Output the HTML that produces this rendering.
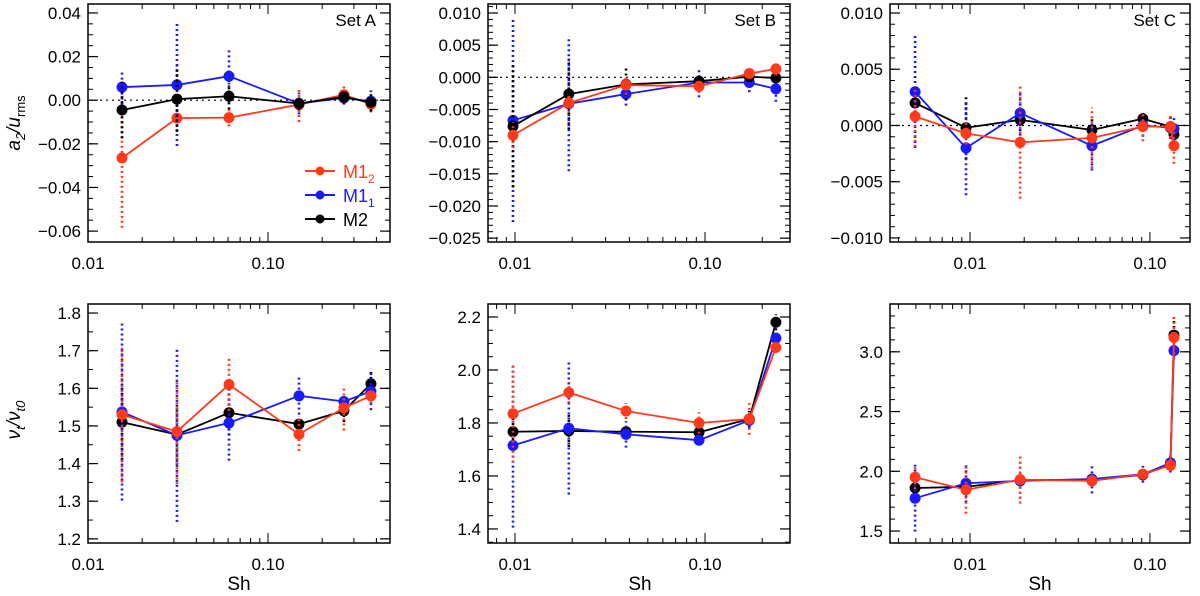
<!DOCTYPE html>
<html><head><meta charset="utf-8">
<style>
body{margin:0;background:#fff;}
svg{display:block;}
text{font-family:"Liberation Sans",sans-serif;}
</style></head>
<body>
<svg id="fig" width="1200" height="596" viewBox="0 0 1200 596" xmlns="http://www.w3.org/2000/svg">
<g transform="translate(20,123) rotate(-90)"><text x="0" y="0" text-anchor="middle" font-size="19" font-family="Liberation Serif" font-style="italic">a<tspan font-size="13" dy="5">2</tspan><tspan dy="-5">/u</tspan><tspan font-size="13" dy="5" font-style="normal">rms</tspan></text></g>
<g transform="translate(20,420) rotate(-90)"><text x="0" y="0" text-anchor="middle" font-size="19" font-family="Liberation Serif" font-style="italic">ν<tspan font-size="13" dy="5">t</tspan><tspan dy="-5">/ν</tspan><tspan font-size="13" dy="5">t0</tspan></text></g>
<text x="239" y="590" text-anchor="middle" font-size="19" font-family="Liberation Serif">Sh</text>
<text x="640" y="590" text-anchor="middle" font-size="19" font-family="Liberation Serif">Sh</text>
<text x="1040" y="590" text-anchor="middle" font-size="19" font-family="Liberation Serif">Sh</text>
<g id="legend">
<line x1="305" y1="171" x2="335" y2="171" stroke="#ff3a1a" stroke-width="2"/><circle cx="320" cy="171" r="4.5" fill="#ff3a1a"/>
<text x="343" y="178" font-size="18" font-family="Liberation Serif" fill="#ff3a1a">M1<tspan font-size="12" dy="5">2</tspan></text>
<line x1="305" y1="195" x2="335" y2="195" stroke="#1a1aff" stroke-width="2"/><circle cx="320" cy="195" r="4.5" fill="#1a1aff"/>
<text x="343" y="202" font-size="18" font-family="Liberation Serif" fill="#1a1aff">M1<tspan font-size="12" dy="5">1</tspan></text>
<line x1="305" y1="219" x2="335" y2="219" stroke="#000" stroke-width="2"/><circle cx="320" cy="219" r="4.5" fill="#000"/>
<text x="343" y="226" font-size="18" font-family="Liberation Serif" fill="#000">M2</text>
</g>
</svg>
<script>
// x positions (Sh)
const shA=[0.01545,0.0312,0.0607,0.1486,0.264,0.373];
const shB=[0.00976,0.0192,0.0384,0.093,0.171,0.236];
const shC=[0.00495,0.0095,0.019,0.0476,0.0914,0.130,0.136];
// a2/urms
const a2A_red=[-0.0265,-0.0082,-0.0080,-0.0020,0.0025,-0.0018];
const a2A_blue=[0.006,0.007,0.011,-0.0015,0.001,-0.0005];
const a2A_black=[-0.0045,0.0005,0.0018,-0.0015,0.0015,-0.001];
const a2A_redErr=[0.032,0.006,0.004,0.008,0.004,0.003];
const a2A_blueErr=[0.008,0.028,0.012,0.005,0.003,0.005];
const a2A_blackErr=[0.013,0.015,0.006,0.003,0.003,0.004];
const a2B_red=[-0.009,-0.004,-0.0012,-0.0014,0.0006,0.0013];
const a2B_blue=[-0.0067,-0.0041,-0.0026,-0.0008,-0.0008,-0.0018];
const a2B_black=[-0.0076,-0.0026,-0.0011,-0.0006,0.0001,-0.0001];
const a2B_redErr=[0.002,0.0015,0.0015,0.001,0.0005,0.001];
const a2B_blueErr=[0.0158,0.0105,0.0018,0.0023,0.0015,0.002];
const a2B_blackErr=[0.0095,0.0055,0.0025,0.001,0.0005,0.0005];
const a2C_red=[0.0008,-0.0007,-0.0015,-0.0011,-0.0001,-0.0001,-0.0018];
const a2C_blue=[0.003,-0.002,0.0011,-0.0018,0.0,-0.0002,-0.0003];
const a2C_black=[0.002,-0.0002,0.0005,-0.0004,0.0006,-0.0001,-0.0008];
const a2C_redErr=[0.0027,0.001,0.005,0.0027,0.0013,0.001,0.0016];
const a2C_blueErr=[0.005,0.0042,0.002,0.0022,0.001,0.001,0.001];
const a2C_blackErr=[0.0003,0.0028,0.001,0.001,0.0005,0.0005,0.0005];
// nu_t/nu_t0
const nuA_red=[1.53,1.485,1.61,1.478,1.548,1.58];
const nuA_blue=[1.537,1.475,1.508,1.58,1.565,1.592];
const nuA_black=[1.51,1.477,1.535,1.505,1.54,1.612];
const nuA_redErr=[0.18,0.14,0.07,0.045,0.06,0.02];
const nuA_blueErr=[0.235,0.23,0.1,0.05,0.01,0.05];
const nuA_blackErr=[0.1,0.08,0.06,0.02,0.03,0.04];
const nuB_red=[1.835,1.915,1.845,1.80,1.815,2.085];
const nuB_blue=[1.715,1.78,1.757,1.735,1.81,2.12];
const nuB_black=[1.767,1.77,1.767,1.765,1.815,2.18];
const nuB_redErr=[0.185,0.04,0.03,0.04,0.06,0.02];
const nuB_blueErr=[0.31,0.25,0.05,0.02,0.03,0.02];
const nuB_blackErr=[0.05,0.06,0.02,0.01,0.03,0.03];
const nuC_red=[1.95,1.845,1.93,1.92,1.975,2.05,3.12];
const nuC_blue=[1.775,1.90,1.92,1.935,1.975,2.07,3.01];
const nuC_black=[1.86,1.87,1.925,1.93,1.97,2.06,3.14];
const nuC_redErr=[0.1,0.2,0.2,0.05,0.04,0.05,0.18];
const nuC_blueErr=[0.28,0.16,0.15,0.12,0.07,0.08,0.05];
const nuC_blackErr=[0.05,0.05,0.05,0.04,0.03,0.03,0.15];
// tick labels
const xTickVals=[0.01,0.1];
const xTickLabels=["0.01","0.10"];
const yTicksA=[-0.06,-0.04,-0.02,0,0.02,0.04];
const yLabelsA=["−0.06","−0.04","−0.02","0.00","0.02","0.04"];
const yTicksB=[-0.025,-0.02,-0.015,-0.01,-0.005,0,0.005,0.01];
const yLabelsB=["−0.025","−0.020","−0.015","−0.010","−0.005","0.000","0.005","0.010"];
const yTicksC=[-0.01,-0.005,0,0.005,0.01];
const yLabelsC=["−0.010","−0.005","0.000","0.005","0.010"];
const yTicksNA=[1.2,1.3,1.4,1.5,1.6,1.7,1.8];
const yLabelsNA=["1.2","1.3","1.4","1.5","1.6","1.7","1.8"];
const yTicksNB=[1.4,1.6,1.8,2.0,2.2];
const yLabelsNB=["1.4","1.6","1.8","2.0","2.2"];
const yTicksNC=[1.5,2.0,2.5,3.0];
const yLabelsNC=["1.5","2.0","2.5","3.0"];

const RED="#ff3a1a",BLUE="#1a1aff",BLK="#000";
const NS="http://www.w3.org/2000/svg";
const svg=document.getElementById('fig');
function mk(tag,attrs,parent){const e=document.createElementNS(NS,tag);for(const k in attrs)e.setAttribute(k,attrs[k]);(parent||svg).appendChild(e);return e;}

const panels=[
 {id:'a2-set-a',box:[88,4,390,242],xr:[0.01,0.476],yr:[-0.065,0.0441],yt:yTicksA,yl:yLabelsA,ym:0.005,sh:shA,s:[[a2A_red,a2A_redErr,RED],[a2A_blue,a2A_blueErr,BLUE],[a2A_black,a2A_blackErr,BLK]],zero:true,title:'Set A'},
 {id:'a2-set-b',box:[488,4,790,242],xr:[0.00721,0.28],yr:[-0.0256,0.0114],yt:yTicksB,yl:yLabelsB,ym:0.001,sh:shB,s:[[a2B_blue,a2B_blueErr,BLUE],[a2B_black,a2B_blackErr,BLK],[a2B_red,a2B_redErr,RED]],zero:true,title:'Set B'},
 {id:'a2-set-c',box:[890,4,1190,242],xr:[0.00359,0.167],yr:[-0.01036,0.0108],yt:yTicksC,yl:yLabelsC,ym:0.001,sh:shC,s:[[a2C_black,a2C_blackErr,BLK],[a2C_blue,a2C_blueErr,BLUE],[a2C_red,a2C_redErr,RED]],zero:true,title:'Set C'},
 {id:'nu-set-a',box:[88,304,390,543],xr:[0.01,0.476],yr:[1.189,1.824],yt:yTicksNA,yl:yLabelsNA,ym:0.05,sh:shA,s:[[nuA_black,nuA_blackErr,BLK],[nuA_blue,nuA_blueErr,BLUE],[nuA_red,nuA_redErr,RED]]},
 {id:'nu-set-b',box:[488,304,790,543],xr:[0.00721,0.28],yr:[1.347,2.249],yt:yTicksNB,yl:yLabelsNB,ym:0.05,sh:shB,s:[[nuB_black,nuB_blackErr,BLK],[nuB_blue,nuB_blueErr,BLUE],[nuB_red,nuB_redErr,RED]]},
 {id:'nu-set-c',box:[890,304,1190,543],xr:[0.00359,0.167],yr:[1.40,3.40],yt:yTicksNC,yl:yLabelsNC,ym:0.1,sh:shC,s:[[nuC_black,nuC_blackErr,BLK],[nuC_blue,nuC_blueErr,BLUE],[nuC_red,nuC_redErr,RED]]}
];
const names=['m1-2','m1-1','m2'];
panels.forEach(p=>{
 const [x0,y0,x1,y1]=p.box;
 const g=mk('g',{});
 
 
 const lx0=Math.log10(p.xr[0]),lx1=Math.log10(p.xr[1]);
 const X=v=>x0+(Math.log10(v)-lx0)/(lx1-lx0)*(x1-x0);
 const Y=v=>y1-(v-p.yr[0])/(p.yr[1]-p.yr[0])*(y1-y0);
 // minor y ticks
 const start=Math.ceil(p.yr[0]/p.ym-1e-6);
 for(let k=start;k*p.ym<=p.yr[1]+1e-9;k++){
  const yy=Y(k*p.ym);
  mk('line',{x1:x0,y1:yy,x2:x0+5,y2:yy,stroke:'#000','stroke-width':1},g);
  mk('line',{x1:x1,y1:yy,x2:x1-5,y2:yy,stroke:'#000','stroke-width':1},g);
 }
 p.yt.forEach((v,i)=>{
  const yy=Y(v);
  mk('line',{x1:x0,y1:yy,x2:x0+10,y2:yy,stroke:'#000','stroke-width':1.2},g);
  mk('line',{x1:x1,y1:yy,x2:x1-10,y2:yy,stroke:'#000','stroke-width':1.2},g);
  const t=mk('text',{x:x0-7,y:yy+6,'text-anchor':'end','font-size':17},g);
  
  
  t.textContent=p.yl[i];
 });
 // x ticks
 for(let d=-4;d<=0;d++){for(let m=1;m<=9;m++){
  const v=m*Math.pow(10,d); if(v<p.xr[0]*0.999||v>p.xr[1])continue;
  const xx=X(v),L=(m===1)?10:5;
  mk('line',{x1:xx,y1:y1,x2:xx,y2:y1-L,stroke:'#000','stroke-width':1},g);
  mk('line',{x1:xx,y1:y0,x2:xx,y2:y0+L,stroke:'#000','stroke-width':1},g);
 }}
 xTickVals.forEach((v,i)=>{
  const t=mk('text',{x:X(v),y:y1+27,'text-anchor':'middle','font-size':17},g);
  
  
  t.textContent=xTickLabels[i];
 });
 if(p.zero){mk('line',{x1:x0,y1:Y(0),x2:x1,y2:Y(0),stroke:'#000','stroke-width':1.2,'stroke-dasharray':'2 4'},g);}
 if(p.title){const t=mk('text',{x:x1-14,y:y0+22,'text-anchor':'end','font-size':17,'font-family':'Liberation Serif'},g);
  
  
  t.textContent=p.title;}
 p.s.forEach(([vals,errs,col])=>{
  const sg=mk('g',{},g);
  
  
  vals.forEach((v,i)=>{
   mk('line',{x1:X(p.sh[i]),y1:Y(v-errs[i]),x2:X(p.sh[i]),y2:Y(v+errs[i]),stroke:col,'stroke-width':2.6,'stroke-dasharray':'2 3'},sg);
  });
  mk('polyline',{points:vals.map((v,i)=>X(p.sh[i])+','+Y(v)).join(' '),fill:'none',stroke:col,'stroke-width':1.8},sg);
  vals.forEach((v,i)=>{
   const c=mk('circle',{cx:X(p.sh[i]),cy:Y(v),r:5.5,fill:col},sg);
   
   
  });
 });
 mk('rect',{x:x0,y:y0,width:x1-x0,height:y1-y0,fill:'none',stroke:'#000','stroke-width':1.5},g);
});
svg.appendChild(document.getElementById('legend'));
</script>
</body></html>
